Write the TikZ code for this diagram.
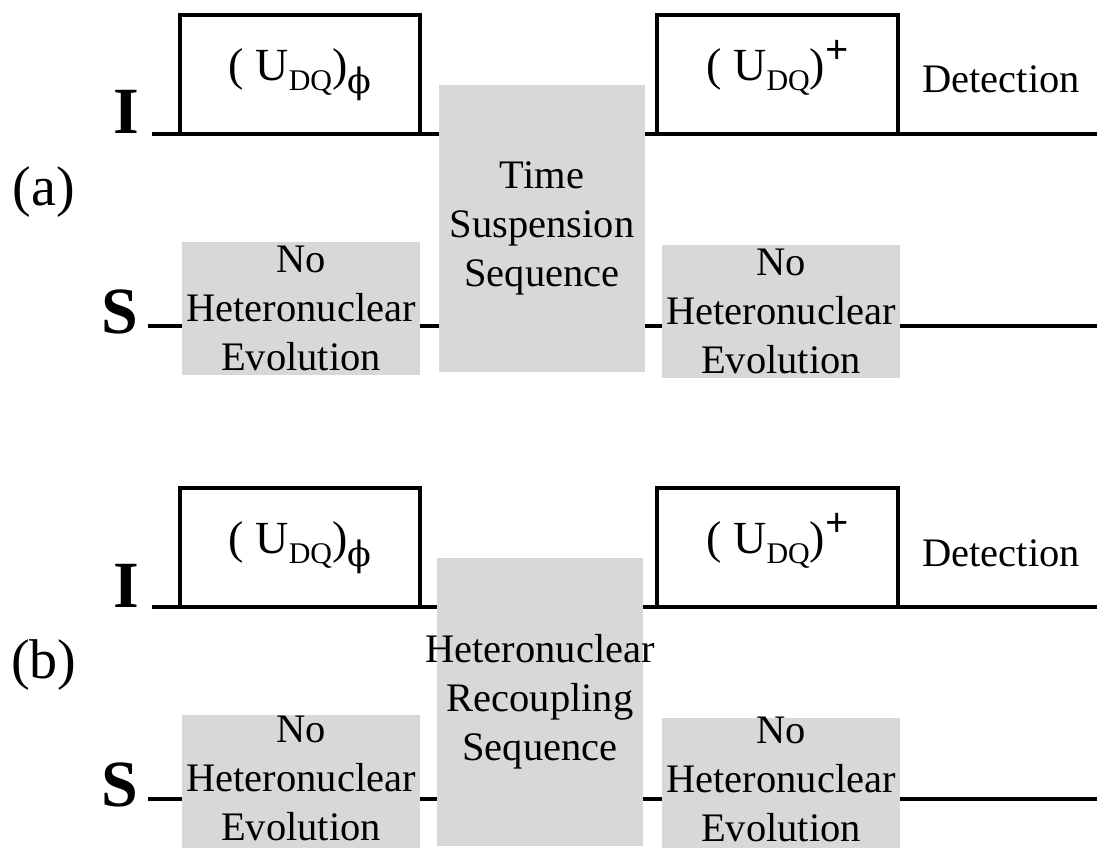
\documentclass[tikz,border=0pt]{standalone}
\usepackage{fontspec}
\setmainfont{Liberation Serif}
\newfontfamily\phifont{DejaVu Serif}
\usepackage{tikz}
\usetikzlibrary{positioning,calc}
\definecolor{seqgray}{HTML}{D8D8D8}

\tikzset{
  rail/.style={line width=4.5pt},
  pulsebox/.style={draw, line width=4.5pt, inner sep=0pt, outer sep=0pt, minimum width=240pt, minimum height=119pt},
  graybox/.style={fill=seqgray, inner sep=0pt, outer sep=0pt},
  seqtext/.style={align=center, inner sep=0pt, font=\fontsize{40.5}{49}\selectfont},
  optext/.style={anchor=base, inner sep=0pt, font=\fontsize{46}{46}\selectfont},
  chanlabel/.style={anchor=base, inner sep=0pt, font=\fontsize{66}{66}\selectfont\bfseries},
  panellabel/.style={inner sep=0pt, font=\fontsize{56}{56}\selectfont}
}
\newcommand{\udq}{( U\raisebox{-10pt}{\fontsize{30}{30}\selectfont DQ})}
\newcommand{\phisub}{\raisebox{-13pt}{\fontsize{35}{35}\phifont\selectfont ϕ}}
\newcommand{\plussup}{\raisebox{17pt}{\fontsize{41}{41}\selectfont\textbf{+}}}

\begin{document}
\begin{tikzpicture}[x=1pt, y=-1pt]
  \useasboundingbox (0,0) rectangle (1097,848);

  % ======= (a) time suspension =======
  \begin{scope}
    \node[panellabel] (pa) at (44,192) {(a)};
    \node[chanlabel] (Ia) at (126,134) {I};
    \node[chanlabel] (Sa) at (120,333) {S};

    % gray blocks
    \node[graybox, minimum width=206pt, minimum height=287pt] (tsa) at (542,228.5) {};
    \node[seqtext] at (tsa) {Time\\Suspension\\Sequence};
    \node[graybox, minimum width=238pt, minimum height=133pt] (nla) at (301,308.5) {};
    \node[seqtext] at (nla) {No\\Heteronuclear\\Evolution};
    \node[graybox, minimum width=238pt, minimum height=133pt] (nra) at (781,311.5) {};
    \node[seqtext] at (nra) {No\\Heteronuclear\\Evolution};

    % I channel
    \node[pulsebox] (Ua) at (300,74.5) {};
    \node[pulsebox, minimum width=241pt] (Upa) at (777.5,74.5) {};
    \node[optext, yshift=-6pt] at (Ua.center) {\udq\phisub};
    \node[optext, yshift=-6pt] at (Upa.center) {\udq\plussup};
    \node[seqtext, anchor=base] (deta) at (1001,93) {Detection};
    \coordinate (Ia0) at (152,134);
    \coordinate (Ia1) at (1097,134);
    \draw[rail] (Ia0) -- (Ua.south west);
    \draw[rail] (Ua.south east) -- (tsa.west |- Ua.south);
    \draw[rail] (tsa.east |- Upa.south) -- (Upa.south west);
    \draw[rail] (Upa.south east) -- (Ia1);

    % S channel
    \coordinate (Sa0) at (148,326);
    \coordinate (Sa1) at (1097,326);
    \draw[rail] (Sa0) -- (nla.west |- Sa0);
    \draw[rail] (nla.east |- Sa0) -- (tsa.west |- Sa0);
    \draw[rail] (tsa.east |- Sa0) -- (nra.west |- Sa0);
    \draw[rail] (nra.east |- Sa0) -- (Sa1);
  \end{scope}

  % ======= (b) heteronuclear recoupling =======
  \begin{scope}[shift={(0,473)}]
    \node[panellabel] (pb) at (44,192) {(b)};
    \node[chanlabel] (Ib) at (126,134) {I};
    \node[chanlabel] (Sb) at (120,333) {S};

    % gray blocks
    \node[graybox, minimum width=206pt, minimum height=288pt] (tsb) at (540,229) {};
    \node[seqtext] at (tsb) {Heteronuclear\\Recoupling\\Sequence};
    \node[graybox, minimum width=238pt, minimum height=133pt] (nlb) at (301,308.5) {};
    \node[seqtext] at ([yshift=3pt]nlb.center) {No\\Heteronuclear\\Evolution};
    \node[graybox, minimum width=238pt, minimum height=133pt] (nrb) at (781,311.5) {};
    \node[seqtext] at ([yshift=5pt]nrb.center) {No\\Heteronuclear\\Evolution};

    % I channel
    \node[pulsebox] (Ub) at (300,74.5) {};
    \node[pulsebox, minimum width=241pt] (Upb) at (777.5,74.5) {};
    \node[optext, yshift=-6pt] at (Ub.center) {\udq\phisub};
    \node[optext, yshift=-6pt] at (Upb.center) {\udq\plussup};
    \node[seqtext, anchor=base] (detb) at (1001,93) {Detection};
    \coordinate (Ib0) at (152,134);
    \coordinate (Ib1) at (1097,134);
    \draw[rail] (Ib0) -- (Ub.south west);
    \draw[rail] (Ub.south east) -- (tsb.west |- Ub.south);
    \draw[rail] (tsb.east |- Upb.south) -- (Upb.south west);
    \draw[rail] (Upb.south east) -- (Ib1);

    % S channel
    \coordinate (Sb0) at (148,326);
    \coordinate (Sb1) at (1097,326);
    \draw[rail] (Sb0) -- (nlb.west |- Sb0);
    \draw[rail] (nlb.east |- Sb0) -- (tsb.west |- Sb0);
    \draw[rail] (tsb.east |- Sb0) -- (nrb.west |- Sb0);
    \draw[rail] (nrb.east |- Sb0) -- (Sb1);
  \end{scope}
\end{tikzpicture}
\end{document}
